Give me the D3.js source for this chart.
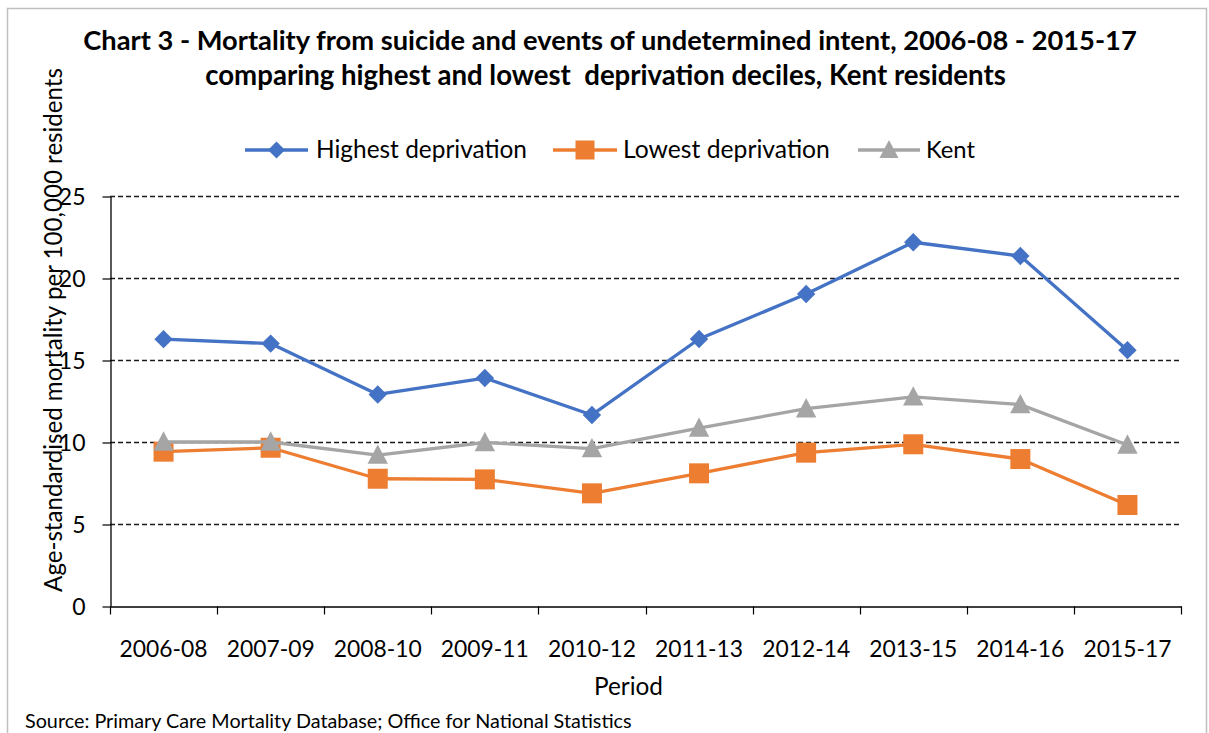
<!DOCTYPE html>
<html>
<head>
<meta charset="utf-8">
<script src="https://cdn.jsdelivr.net/npm/d3@7"></script>
<style>
  html, body { margin: 0; padding: 0; background: #fff; }
  svg { display: block; font-family: Lato, "Open Sans", sans-serif; }
</style>
</head>
<body>
<svg id="chart" width="1209" height="733"></svg>
<script>
// ---- data ----
const periods = ["2006-08","2007-09","2008-10","2009-11","2010-12","2011-13","2012-14","2013-15","2014-16","2015-17"];
const highest = [16.27, 16.0, 12.9, 13.9, 11.65, 16.28, 19.02, 22.18, 21.34, 15.6];
const lowest  = [9.41, 9.65, 7.76, 7.72, 6.87, 8.09, 9.35, 9.86, 8.96, 6.16];
const kent    = [10.0, 10.0, 9.2, 9.97, 9.6, 10.85, 12.03, 12.75, 12.28, 9.82];
const seriesNames = ["Highest deprivation", "Lowest deprivation", "Kent"];
const yTicks = [0, 5, 10, 15, 20, 25];
const titleLines = [
  "Chart 3 - Mortality from suicide and events of undetermined intent, 2006-08 - 2015-17",
  "comparing highest and lowest  deprivation deciles, Kent residents"
];
const yTitle = "Age-standardised mortality per 100,000 residents";
const xTitle = "Period";
const sourceText = "Source: Primary Care Mortality Database; Office for National Statistics";

const colors = ["#4472C4", "#ED7D31", "#A5A5A5"];
const shapes = ["diamond", "square", "triangle"];
const series = [highest, lowest, kent];

const svg = d3.select("#chart");

// helper: fit text to a target width by adjusting font size
function fit(sel, target) {
  const node = sel.node();
  const fs = parseFloat(sel.attr("font-size"));
  const w = node.getComputedTextLength();
  if (w > 0) sel.attr("font-size", (fs * target / w).toFixed(2));
  return sel;
}

// chart border
svg.append("rect")
  .attr("x", 7.5).attr("y", 8.5)
  .attr("width", 1199).attr("height", 740)
  .attr("fill", "none").attr("stroke", "#BFBFBF").attr("stroke-width", 1.5);

// scales
const x = d3.scaleBand().domain(periods).range([110, 1181]);
const y = d3.scaleLinear().domain([0, 25]).range([606, 196]);

// gridlines
const g = svg.append("g");
g.selectAll("line.grid").data(yTicks.filter(d => d > 0)).join("line")
  .attr("class", "grid")
  .attr("x1", 110).attr("x2", 1181)
  .attr("y1", d => Math.round(y(d)) + 0.5).attr("y2", d => Math.round(y(d)) + 0.5)
  .attr("stroke", "#1a1a1a").attr("stroke-width", 1.4).attr("stroke-dasharray", "5,3");

// y axis
const yAxis = svg.append("g").attr("transform", "translate(110.5,0.5)")
  .call(d3.axisLeft(y).tickValues(yTicks).tickSize(8).tickPadding(17).tickSizeOuter(0));
yAxis.select(".domain").attr("stroke", "#000").attr("stroke-width", 1.3);
yAxis.selectAll(".tick line").attr("stroke", "#000").attr("stroke-width", 1.2);
yAxis.selectAll(".tick text").attr("font-size", 23).attr("font-family", "Lato, sans-serif").attr("fill", "#000").attr("dy", "0.36em");

// x axis
const xAxis = svg.append("g").attr("transform", "translate(0.5,606.5)")
  .call(d3.axisBottom(x).tickSize(0).tickPadding(0));
xAxis.select(".domain").attr("stroke", "#000").attr("stroke-width", 1.3);
xAxis.selectAll(".tick text").remove();
// band-boundary ticks
const bounds = periods.map(p => x(p)).concat([x.range()[1]]);
xAxis.selectAll("line.bt").data(bounds).join("line")
  .attr("class", "bt")
  .attr("x1", d => Math.round(d)).attr("x2", d => Math.round(d))
  .attr("y1", 0).attr("y2", 8)
  .attr("stroke", "#000").attr("stroke-width", 1.2);
svg.append("g").selectAll("text").data(periods).join("text")
  .attr("x", d => x(d) + x.bandwidth() / 2)
  .attr("y", 657)
  .attr("text-anchor", "middle")
  .attr("font-size", 23)
  .attr("fill", "#000")
  .text(d => d)
  .each(function() { fit(d3.select(this), 88); });

// axis titles
fit(svg.append("text")
  .attr("x", 628.5).attr("y", 695)
  .attr("text-anchor", "middle")
  .attr("font-size", 22).attr("fill", "#000")
  .text(xTitle), 69);

fit(svg.append("text")
  .attr("transform", "translate(62,330) rotate(-90)")
  .attr("text-anchor", "middle")
  .attr("font-size", 23).attr("fill", "#000")
  .text(yTitle), 524);

// title
fit(svg.append("text")
  .attr("x", 610).attr("y", 50)
  .attr("text-anchor", "middle").attr("font-weight", "bold")
  .attr("font-size", 25).attr("fill", "#000")
  .text(titleLines[0]), 1054);
fit(svg.append("text")
  .attr("x", 605.5).attr("y", 85)
  .attr("text-anchor", "middle").attr("font-weight", "bold")
  .attr("font-size", 25).attr("fill", "#000")
  .attr("style", "white-space: pre")
  .text(titleLines[1]), 801);

// marker path generators
function markerPath(shape, s) {
  if (shape === "diamond") {
    return `M0,${-s}L${s},0L0,${s}L${-s},0Z`;
  } else if (shape === "square") {
    return `M${-s},${-s}H${s}V${s}H${-s}Z`;
  } else {
    const h = s * 1.9;
    return `M0,${-h * 0.55}L${s},${h * 0.45}L${-s},${h * 0.45}Z`;
  }
}
const markerSize = { diamond: 9.2, square: 10, triangle: 10.2 };

// lines
const line = d3.line()
  .x((d, i) => x(periods[i]) + x.bandwidth() / 2)
  .y(d => y(d));

series.forEach((vals, si) => {
  svg.append("path")
    .datum(vals)
    .attr("d", line)
    .attr("fill", "none")
    .attr("stroke", colors[si])
    .attr("stroke-width", 3.3)
    .attr("stroke-linejoin", "round");
  svg.append("g").selectAll("path").data(vals).join("path")
    .attr("transform", (d, i) => `translate(${x(periods[i]) + x.bandwidth() / 2},${y(d)})`)
    .attr("d", markerPath(shapes[si], markerSize[shapes[si]]))
    .attr("fill", colors[si]);
});

// legend
const legendItems = [
  { lx1: 245, lx2: 308, tx: 316, tw: 211 },
  { lx1: 553, lx2: 617, tx: 623, tw: 207 },
  { lx1: 858, lx2: 920, tx: 926, tw: 49 }
];
const legendMarkerSize = { diamond: 8.5, square: 9.5, triangle: 9.5 };
const ly = 150;
legendItems.forEach((it, i) => {
  const lg = svg.append("g");
  lg.append("line")
    .attr("x1", it.lx1).attr("x2", it.lx2)
    .attr("y1", ly).attr("y2", ly)
    .attr("stroke", colors[i]).attr("stroke-width", 3.3);
  lg.append("path")
    .attr("transform", `translate(${(it.lx1 + it.lx2) / 2},${ly})`)
    .attr("d", markerPath(shapes[i], legendMarkerSize[shapes[i]]))
    .attr("fill", colors[i]);
  fit(lg.append("text")
    .attr("x", it.tx).attr("y", ly + 8)
    .attr("font-size", 22).attr("fill", "#000")
    .text(seriesNames[i]), it.tw);
});

// source
svg.append("text")
  .attr("x", 25).attr("y", 728)
  .attr("font-size", 17).attr("fill", "#000")
  .text(sourceText)
  .each(function() { fit(d3.select(this), 607); });
</script>
</body>
</html>
